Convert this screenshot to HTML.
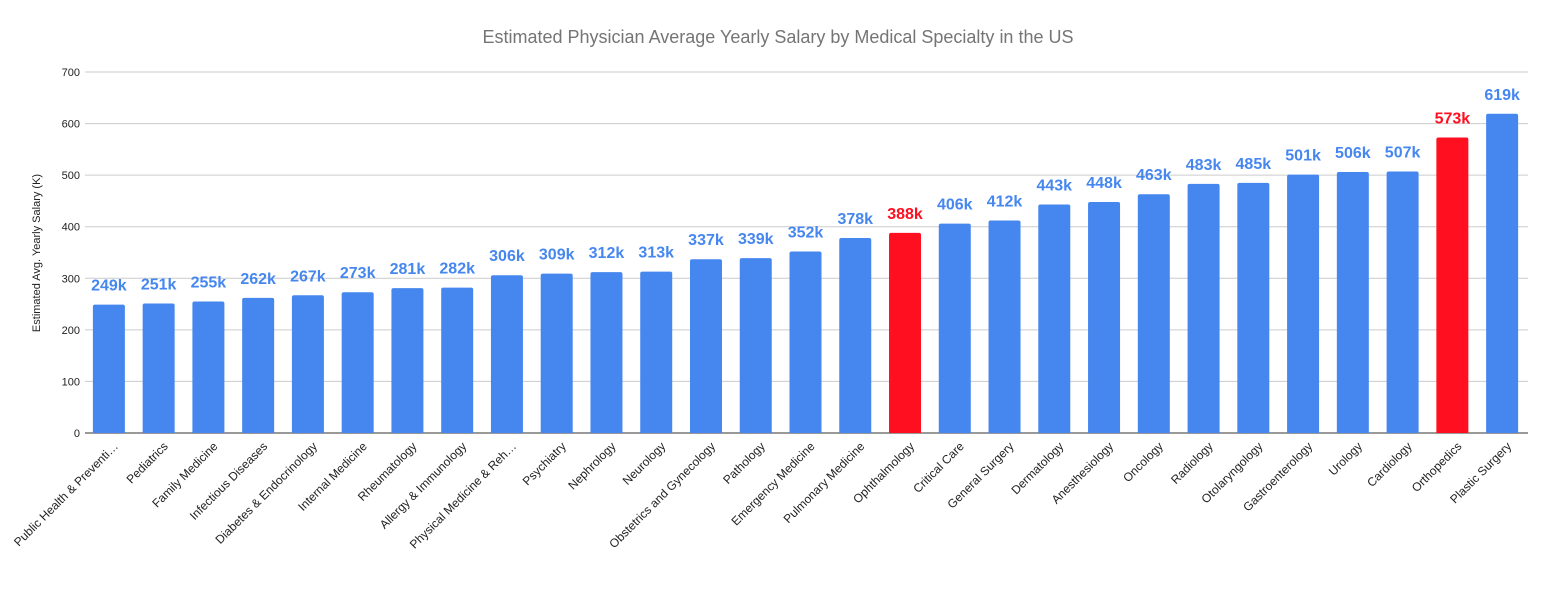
<!DOCTYPE html>
<html><head><meta charset="utf-8"><style>
body{margin:0;background:#fff;}
svg{display:block;font-family:"Liberation Sans",Arial,sans-serif;}
</style></head><body>
<svg id="chart" width="1554" height="594">
<text x="778" y="43" text-anchor="middle" font-size="18" fill="#757575">Estimated Physician Average Yearly Salary by Medical Specialty in the US</text>
<text transform="translate(40,253) rotate(-90)" text-anchor="middle" font-size="11" fill="#222">Estimated Avg. Yearly Salary (K)</text>
<g id="grid"></g><g id="bars"></g><g id="xl"></g>
</svg>
<script>
const categories=["Public Health & Preventi…","Pediatrics","Family Medicine","Infectious Diseases","Diabetes & Endocrinology","Internal Medicine","Rheumatology","Allergy & Immunology","Physical Medicine & Reh…","Psychiatry","Nephrology","Neurology","Obstetrics and Gynecology","Pathology","Emergency Medicine","Pulmonary Medicine","Ophthalmology","Critical Care","General Surgery","Dermatology","Anesthesiology","Oncology","Radiology","Otolaryngology","Gastroenterology","Urology","Cardiology","Orthopedics","Plastic Surgery"];
const values=[249,251,255,262,267,273,281,282,306,309,312,313,337,339,352,378,388,406,412,443,448,463,483,485,501,506,507,573,619];
const highlighted=["Ophthalmology","Orthopedics"];
const yTicks=[0,100,200,300,400,500,600,700];
const NS="http://www.w3.org/2000/svg";
const x0=85,x1=1528,yb=433,yt=72,yMax=700;
const y=v=>yb-(yb-yt)*v/yMax;
const step=(x1-x0)/categories.length;
const xc=i=>x0+step*(i+0.5)-1;
function mk(t,a,p){const e=document.createElementNS(NS,t);for(const k in a)e.setAttribute(k,a[k]);p.appendChild(e);return e;}
const grid=document.getElementById('grid'),bars=document.getElementById('bars'),xl=document.getElementById('xl');
yTicks.forEach(v=>{
 const l=mk('line',{x1:x0,x2:x1,y1:y(v),y2:y(v),stroke:v===0?'#333':'#ccc','stroke-width':1},grid);
 
 
 const t=mk('text',{x:80,y:y(v)+4,'text-anchor':'end','font-size':11,fill:'#222'},grid);
 t.textContent=v;
 
 
});
categories.forEach((c,i)=>{
 const v=values[i],col=highlighted.includes(c)?'#ff0f1f':'#4687ef';
 const bw=32;
 const r=mk('path',{d:`M${xc(i)-bw/2},${yb} V${y(v)+2} Q${xc(i)-bw/2},${y(v)} ${xc(i)-bw/2+2},${y(v)} H${xc(i)+bw/2-2} Q${xc(i)+bw/2},${y(v)} ${xc(i)+bw/2},${y(v)+2} V${yb} Z`,fill:col},bars);
 
 
 const t=mk('text',{x:xc(i),y:y(v)-14,'text-anchor':'middle','font-size':16,'font-weight':'bold',fill:highlighted.includes(c)?'#ff0f1f':'#4687ef'},bars);
 t.textContent=v+'k';
 
 
 const lx=xc(i)+10,ly=yb+14;
 const l=mk('text',{transform:`translate(${lx},${ly}) rotate(-45)`,'text-anchor':'end','font-size':12,fill:'#222'},xl);
 l.textContent=c;
 
 
});
</script>
</body></html>
